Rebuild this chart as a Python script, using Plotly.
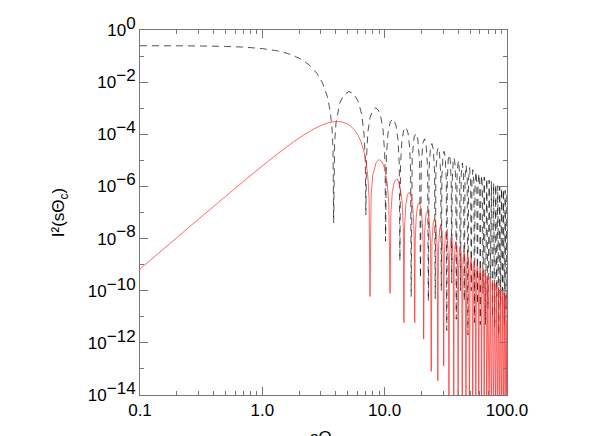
import plotly.graph_objects as go

# dashed black curve (x, intensity)
black_x = [
    0.1, 0.2, 0.3, 0.5, 0.7, 1.0, 1.3, 1.6, 2.0, 2.4, 2.8, 3.1, 3.4, 3.6, 3.72, 3.78, 3.83,
    3.9, 4.0, 4.3, 4.6, 5.1, 5.6, 6.1, 6.5, 6.8, 6.95, 7.02,
    7.1, 7.3, 7.6, 8.0, 8.45, 8.9, 9.3, 9.7, 10.0, 10.1, 10.17,
    10.33, 10.65, 11.12, 11.75, 12.38, 12.85, 13.17, 13.32,
    13.48, 13.80, 14.27, 14.90, 15.53, 16.00, 16.31, 16.47,
    16.78, 17.41, 18.04, 18.67, 19.31, 19.62,
    19.93, 20.56, 21.19, 21.82, 22.45, 22.76,
    23.07, 23.70, 24.33, 24.96, 25.59, 25.90,
    26.22, 26.85, 27.48, 28.10, 28.73, 29.05,
    29.36, 29.99, 30.62, 31.25, 31.88, 32.19,
    32.50, 33.13, 33.76, 34.39, 35.02, 35.33,
    35.64, 36.27, 36.90, 37.53, 38.16, 38.47,
    39.10, 40.05, 40.99, 41.62,
    42.25, 43.19, 44.13, 44.76,
    45.39, 46.33, 47.27, 47.90,
    48.53, 49.47, 50.41, 51.04,
    51.67, 52.61, 53.56, 54.19,
    54.82, 55.76, 56.70, 57.33,
    57.96, 58.90, 59.84, 60.47,
    61.10, 62.04, 62.98, 63.61,
    65.18, 66.75, 68.33, 69.90, 71.47, 73.04, 74.61, 76.18, 77.75, 79.32, 80.89, 82.46,
    84.03, 85.60, 87.18, 88.75, 90.32, 91.89, 93.46, 95.03, 96.60, 98.17, 99.74, 100.0,
]
black_y = [
    0.249, 0.2475, 0.2444, 0.2348, 0.2209, 0.1937, 0.1612, 0.1269, 0.0831, 0.0470, 0.0214,
    0.00942, 0.00278, 7.0e-4, 1.46e-4, 3.0e-5, 4e-8,
    4.9e-5, 2.72e-4, 1.6e-3, 3.09e-3, 4.37e-3, 3.56e-3, 1.75e-3, 5.6e-4, 9.1e-5, 8e-6, 8e-8,
    1.27e-5, 1.28e-4, 4.39e-4, 8.6e-4, 1.04e-3, 8.28e-4, 4.58e-4, 1.5e-4, 1.89e-5, 3.3e-6, 8e-9,
    1.41e-5, 1.09e-4, 3.03e-4, 3.92e-4, 2.20e-4, 6.18e-5, 6.8e-6, 1.4e-9,
    6.4e-6, 4.99e-5, 1.43e-4, 1.92e-4, 1.11e-4, 3.2e-5, 3.6e-6, 6e-11,
    1.29e-5, 7.89e-5, 1.08e-4, 6.40e-5, 8.4e-6, 3e-10,
    7.68e-6, 4.79e-5, 6.69e-5, 4.01e-5, 5.37e-6, 4e-11,
    4.95e-6, 3.13e-5, 4.42e-5, 2.68e-5, 3.63e-6, 5e-11,
    3.37e-6, 2.15e-5, 3.07e-5, 1.88e-5, 2.57e-6, 1e-10,
    2.40e-6, 1.55e-5, 2.22e-5, 1.37e-5, 1.88e-6, 3e-12,
    1.77e-6, 1.14e-5, 1.65e-5, 1.02e-5, 1.41e-6, 2e-10,
    1.35e-6, 8.75e-6, 1.27e-5, 7.9e-6, 1.10e-6, 8e-12,
    3.68e-6, 9.91e-6, 3.19e-6, 1e-10,
    2.92e-6, 7.90e-6, 2.56e-6, 4e-11,
    2.35e-6, 6.40e-6, 2.08e-6, 2e-12,
    1.93e-6, 5.26e-6, 1.72e-6, 1e-10,
    1.59e-6, 4.37e-6, 1.43e-6, 6e-12,
    1.33e-6, 3.67e-6, 1.21e-6, 3e-11,
    1.13e-6, 3.12e-6, 1.03e-6, 5e-12,
    9.66e-7, 2.67e-6, 8.82e-7, 8e-11,
    2.30e-6, 5e-12, 2.00e-6, 2e-11, 1.74e-6, 3e-10, 1.53e-6, 1e-11, 1.35e-6, 4e-12, 1.20e-6, 6e-11,
    1.07e-6, 2e-12, 9.61e-7, 3e-11, 8.64e-7, 1e-10, 7.80e-7, 5e-12, 7.06e-7, 2e-11, 6.5e-7, 6.3e-7,
]

# solid red curve
red_x = [
    0.1, 0.2, 0.3, 0.5, 0.7, 1.0, 1.4, 1.8, 2.2, 2.6, 3.0, 3.4, 3.8, 4.1, 4.5, 5.0, 5.5, 6.0,
    6.4, 6.8, 7.1, 7.3, 7.45, 7.59,
    7.75, 8.0, 8.5, 9.0, 9.5, 10.0, 10.5, 10.8, 11.07,
    11.23, 11.56, 12.06, 12.72, 13.38, 13.88, 14.21, 14.37,
    14.54, 14.86, 15.35, 15.99, 16.64, 17.13, 17.45, 17.62,
    17.78, 18.10, 18.58, 19.22, 19.86, 20.35, 20.67, 20.83,
    21.15, 21.78, 22.42, 23.06, 23.70, 24.02,
    24.34, 24.97, 25.61, 26.25, 26.88, 27.20,
    27.52, 28.15, 28.79, 29.42, 30.05, 30.37,
    30.69, 31.32, 31.95, 32.59, 33.22, 33.54,
    33.85, 34.49, 35.12, 35.75, 36.38, 36.70,
    37.02, 37.65, 38.28, 38.91, 39.54, 39.86,
    40.17, 40.81, 41.44, 42.07, 42.70, 43.02,
    43.65, 44.59, 45.54, 46.17,
    46.80, 47.75, 48.69, 49.32,
    49.95, 50.90, 51.84, 52.47,
    53.10, 54.05, 54.99, 55.62,
    56.25, 57.20, 58.14, 58.77,
    59.40, 60.35, 61.29, 61.92,
    62.55, 63.49, 64.44, 65.07,
    65.70, 66.64, 67.58, 68.21,
    69.79, 71.36, 72.93, 74.50, 76.08, 77.65, 79.22, 80.79, 82.36, 83.94, 85.51,
    87.08, 88.65, 90.22, 91.79, 93.37, 94.94, 96.51, 98.08, 99.65, 100.0,
]
red_y = [
    6.78e-10, 1.085e-8, 5.49e-8, 4.13e-7, 1.55e-6, 6.14e-6, 2.14e-5, 5.13e-5, 9.69e-5, 1.55e-4,
    2.15e-4, 2.68e-4, 3.01e-4, 3.1e-4, 2.96e-4, 2.45e-4, 1.72e-4, 9.87e-5,
    5.3e-5, 2.0e-5, 6.8e-6, 2.11e-6, 3.9e-7, 6e-11,
    4.5e-7, 2.71e-6, 8.24e-6, 1.075e-5, 8.86e-6, 4.82e-6, 1.32e-6, 2.33e-7, 8e-11,
    8.7e-8, 6.35e-7, 1.64e-6, 1.91e-6, 9.7e-7, 2.55e-7, 2.7e-8, 6e-12,
    2.4e-8, 1.81e-7, 4.89e-7, 6.09e-7, 3.27e-7, 8.9e-8, 9.6e-9, 6e-12,
    8.8e-9, 6.75e-8, 1.88e-7, 2.43e-7, 1.35e-7, 3.76e-8, 4.1e-9, 1.4e-12,
    1.44e-8, 8.5e-8, 1.12e-7, 6.39e-8, 8.1e-9, 8e-14,
    7.1e-9, 4.29e-8, 5.78e-8, 3.34e-8, 4.33e-9, 3.5e-14,
    3.85e-9, 2.36e-8, 3.22e-8, 1.89e-8, 2.48e-9, 1.3e-13,
    2.23e-9, 1.38e-8, 1.91e-8, 1.13e-8, 1.50e-9, 1e-15,
    1.37e-9, 8.53e-9, 1.19e-8, 7.13e-9, 9.5e-10, 1e-15,
    8.7e-10, 5.5e-9, 7.74e-9, 4.67e-9, 6.3e-10, 1e-15,
    5.8e-10, 3.68e-9, 5.21e-9, 3.16e-9, 4.3e-10, 1e-15,
    1.39e-9, 3.61e-9, 1.12e-9, 1e-15,
    9.8e-10, 2.56e-9, 8.0e-10, 1e-15,
    7.1e-10, 1.86e-9, 5.9e-10, 1e-15,
    5.2e-10, 1.38e-9, 4.4e-10, 1e-15,
    3.9e-10, 1.04e-9, 3.3e-10, 1e-15,
    2.97e-10, 7.95e-10, 2.54e-10, 1e-15,
    2.30e-10, 6.17e-10, 1.98e-10, 1e-15,
    1.80e-10, 4.84e-10, 1.56e-10, 1e-15,
    3.85e-10, 1e-15, 3.09e-10, 1e-15, 2.50e-10, 1e-15, 2.04e-10, 1e-15, 1.68e-10, 1e-15, 1.39e-10,
    1e-15, 1.16e-10, 1e-15, 9.77e-11, 1e-15, 8.25e-11, 1e-15, 7.01e-11, 1e-15, 7.5e-12,
]

x_tick_vals = [0.1, 1, 10, 100]
x_tick_text = ["0.1", "1.0", "10.0", "100.0"]
x_minor_vals = [0.2, 0.3, 0.4, 0.5, 0.6, 0.7, 0.8, 0.9, 2, 3, 4, 5, 6, 7, 8, 9,
                20, 30, 40, 50, 60, 70, 80, 90]
y_tick_vals = [1, 1e-2, 1e-4, 1e-6, 1e-8, 1e-10, 1e-12, 1e-14]
y_exponents = ["0", "−2", "−4", "−6", "−8", "−10", "−12", "−14"]
y_minor_vals = [1e-1, 1e-3, 1e-5, 1e-7, 1e-9, 1e-11, 1e-13]

FONT = "Liberation Sans, Arial, sans-serif"


def get_intensity_graph():
    fig = go.Figure()
    fig.add_trace(go.Scatter(
        x=black_x, y=black_y, mode="lines",
        line=dict(color="rgba(0,0,0,0.85)", width=0.8, dash="7px,5px", simplify=False),
    ))
    fig.add_trace(go.Scatter(
        x=red_x, y=red_y, mode="lines",
        line=dict(color="rgba(255,30,30,0.85)", width=0.8, simplify=False),
    ))

    axis_style = dict(
        showline=True, linecolor="#777", linewidth=1, mirror="allticks",
        ticks="inside", tickcolor="#777", ticklen=8, tickwidth=1,
        showgrid=False, zeroline=False,
        tickfont=dict(family=FONT, size=17, color="black"),
    )
    fig.update_xaxes(
        type="log", range=[-1, 2],
        tickvals=x_tick_vals, ticktext=x_tick_text,
        minor=dict(tickvals=x_minor_vals, ticks="inside", ticklen=4, tickcolor="#777"),
        **axis_style,
    )
    fig.update_yaxes(
        type="log", range=[-14, 0],
        tickvals=y_tick_vals,
        ticktext=[f"10<sup><span style='font-size:17px'>{e}</span></sup>" for e in y_exponents],
        minor=dict(tickvals=y_minor_vals, ticks="inside", ticklen=4, tickcolor="#777"),
        title=dict(text="I²(sΘ<sub>c</sub>)", standoff=18,
                   font=dict(family=FONT, size=17, color="black")),
        **axis_style,
    )
    # x title sits mostly below the visible page, as in the original
    fig.add_annotation(
        text="sΘ<sub>c</sub>", xref="paper", yref="paper", x=0.5, y=-0.086,
        xanchor="center", yanchor="top", showarrow=False,
        font=dict(family=FONT, size=17, color="black"),
    )
    fig.update_layout(
        width=610, height=436,
        margin=dict(l=132, r=111, t=22, b=49, autoexpand=False),
        plot_bgcolor="white", paper_bgcolor="white",
        showlegend=False,
    )
    return fig


fig = get_intensity_graph()
fig.write_html("out.html")
